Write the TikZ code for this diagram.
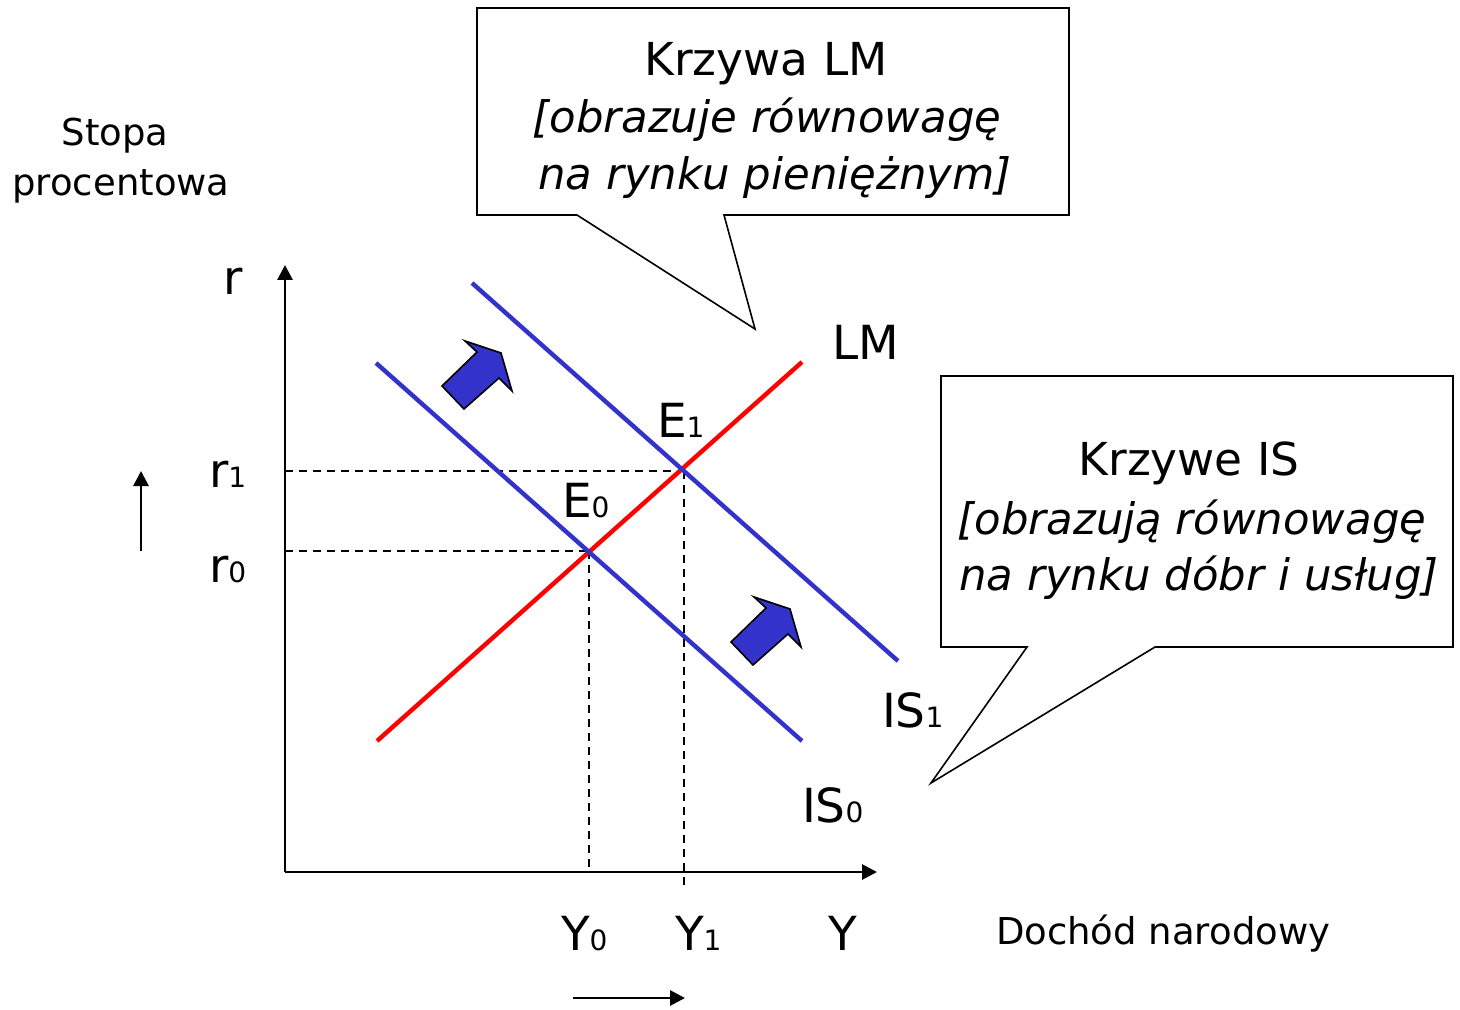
\documentclass[tikz,border=0pt]{standalone}
\usepackage{fontspec}
\setmainfont{DejaVu Sans}
\usetikzlibrary{arrows.meta}
\definecolor{isblue}{RGB}{51,51,204}
\definecolor{lmred}{RGB}{255,0,0}
\newcommand\lowdig[1]{{\fontsize{14}{14}\selectfont #1}}
\begin{document}
\begin{tikzpicture}[x=0.5pt,y=-0.5pt,
  every node/.style={inner sep=0pt,outer sep=0pt},
  bigl/.style={font=\fontsize{23.5}{28}\selectfont},
  midl/.style={font=\fontsize{18.5}{22}\selectfont},
  calltxt/.style={font=\fontsize{22.7}{26}\selectfont},
  callit/.style={font=\fontsize{21.7}{26}\selectfont\itshape},
  axisline/.style={line width=1.4pt,-{Triangle[length=7.5pt,width=7.5pt]}},
  smallarrow/.style={line width=1.4pt,-{Triangle[length=7.5pt,width=7.5pt]}},
  isline/.style={isblue,line width=2.2pt},
  lmline/.style={lmred,line width=2.2pt},
  guide/.style={line width=0.9pt,dash pattern=on 4pt off 3pt},
  callout/.style={draw=black,fill=white,line width=0.8pt},
  shiftarrow/.style={draw=black,fill=isblue,line width=0.8pt}]
\useasboundingbox (0,0) rectangle (1460,1010);
% coordinates
\coordinate (O) at (285,872);
\coordinate (ytop) at (285,265);
\coordinate (xend) at (877,872);
\coordinate (lmA) at (377,741);
\coordinate (lmB) at (802,362);
\coordinate (is0A) at (376,363);
\coordinate (is0B) at (802,741);
\coordinate (is1A) at (472,283);
\coordinate (is1B) at (898,661);
\coordinate (E0) at (589,551);
\coordinate (E1) at (684,471);
\coordinate (r0ax) at (285,551);
\coordinate (r1ax) at (285,471);
\coordinate (y0ax) at (589,872);
\coordinate (y1low) at (684,885);
\coordinate (upA) at (141,551);
\coordinate (upB) at (141,471);
\coordinate (rtA) at (573,998);
\coordinate (rtB) at (685,998);
% guides
\draw[guide] (r1ax) -- (E1);
\draw[guide] (r0ax) -- (E0);
\draw[guide] (E0) -- (y0ax);
\draw[guide] (E1) -- (y1low);
% axes
\draw[axisline] (O) -- (ytop);
\draw[axisline] (O) -- (xend);
% curves
\draw[lmline] (lmA) -- (lmB);
\draw[isline] (is0A) -- (is0B);
\draw[isline] (is1A) -- (is1B);
% block arrows
\foreach \p in {{(442,386)},{(731,642)}}{
  \draw[shiftarrow,shift={\p}] (0,0) -- (35,-34) -- (23,-45) -- (59,-33) -- (70,5) -- (57,-8) -- (22,23) -- cycle;
}
% small arrows
\draw[smallarrow] (upA) -- (upB);
\draw[smallarrow] (rtA) -- (rtB);
% labels
\node[midl,anchor=base] (stopa) at (115,146) {Stopa};
\node[midl,anchor=base] (proc) at (121,196) {procentowa};
\node[bigl,anchor=base] (rlab) at (233,295) {r};
\node[bigl,anchor=base west] (r1lab) at (209,487) {r\lowdig{1}};
\node[bigl,anchor=base west] (r0lab) at (209,582) {r\lowdig{0}};
\node[bigl,anchor=base west] (e1lab) at (657,437) {E\lowdig{1}};
\node[bigl,anchor=base west] (e0lab) at (562,517) {E\lowdig{0}};
\node[bigl,anchor=base west] (lmlab) at (832,359) {LM};
\node[bigl,anchor=base west] (is1lab) at (882,727) {IS\lowdig{1}};
\node[bigl,anchor=base west] (is0lab) at (802,822) {IS\lowdig{0}};
\node[bigl,anchor=base west] (y0lab) at (561,950) {Y\lowdig{0}};
\node[bigl,anchor=base west] (y1lab) at (675,950) {Y\lowdig{1}};
\node[bigl,anchor=base west] (ylab) at (828,950) {Y};
\node[midl,anchor=base west] (doch) at (996,944) {Dochód narodowy};
% callouts
\draw[callout] (477,8) -- (1069,8) -- (1069,215) -- (724,215) -- (755,329) -- (577,215) -- (477,215) -- cycle;
\node[calltxt,anchor=base] (c1a) at (766,76) {Krzywa LM};
\node[callit,anchor=base] (c1b) at (767,133) {[obrazuje równowagę};
\node[callit,anchor=base] (c1c) at (775,190) {na rynku pieniężnym]};
\draw[callout] (941,376) -- (1453,376) -- (1453,647) -- (1155,647) -- (931,783) -- (1027,647) -- (941,647) -- cycle;
\node[calltxt,anchor=base] (c2a) at (1189,475) {Krzywe IS};
\node[callit,anchor=base] (c2b) at (1192,534) {[obrazują równowagę};
\node[callit,anchor=base] (c2c) at (1199,590) {na rynku dóbr i usług]};
\end{tikzpicture}
\end{document}
